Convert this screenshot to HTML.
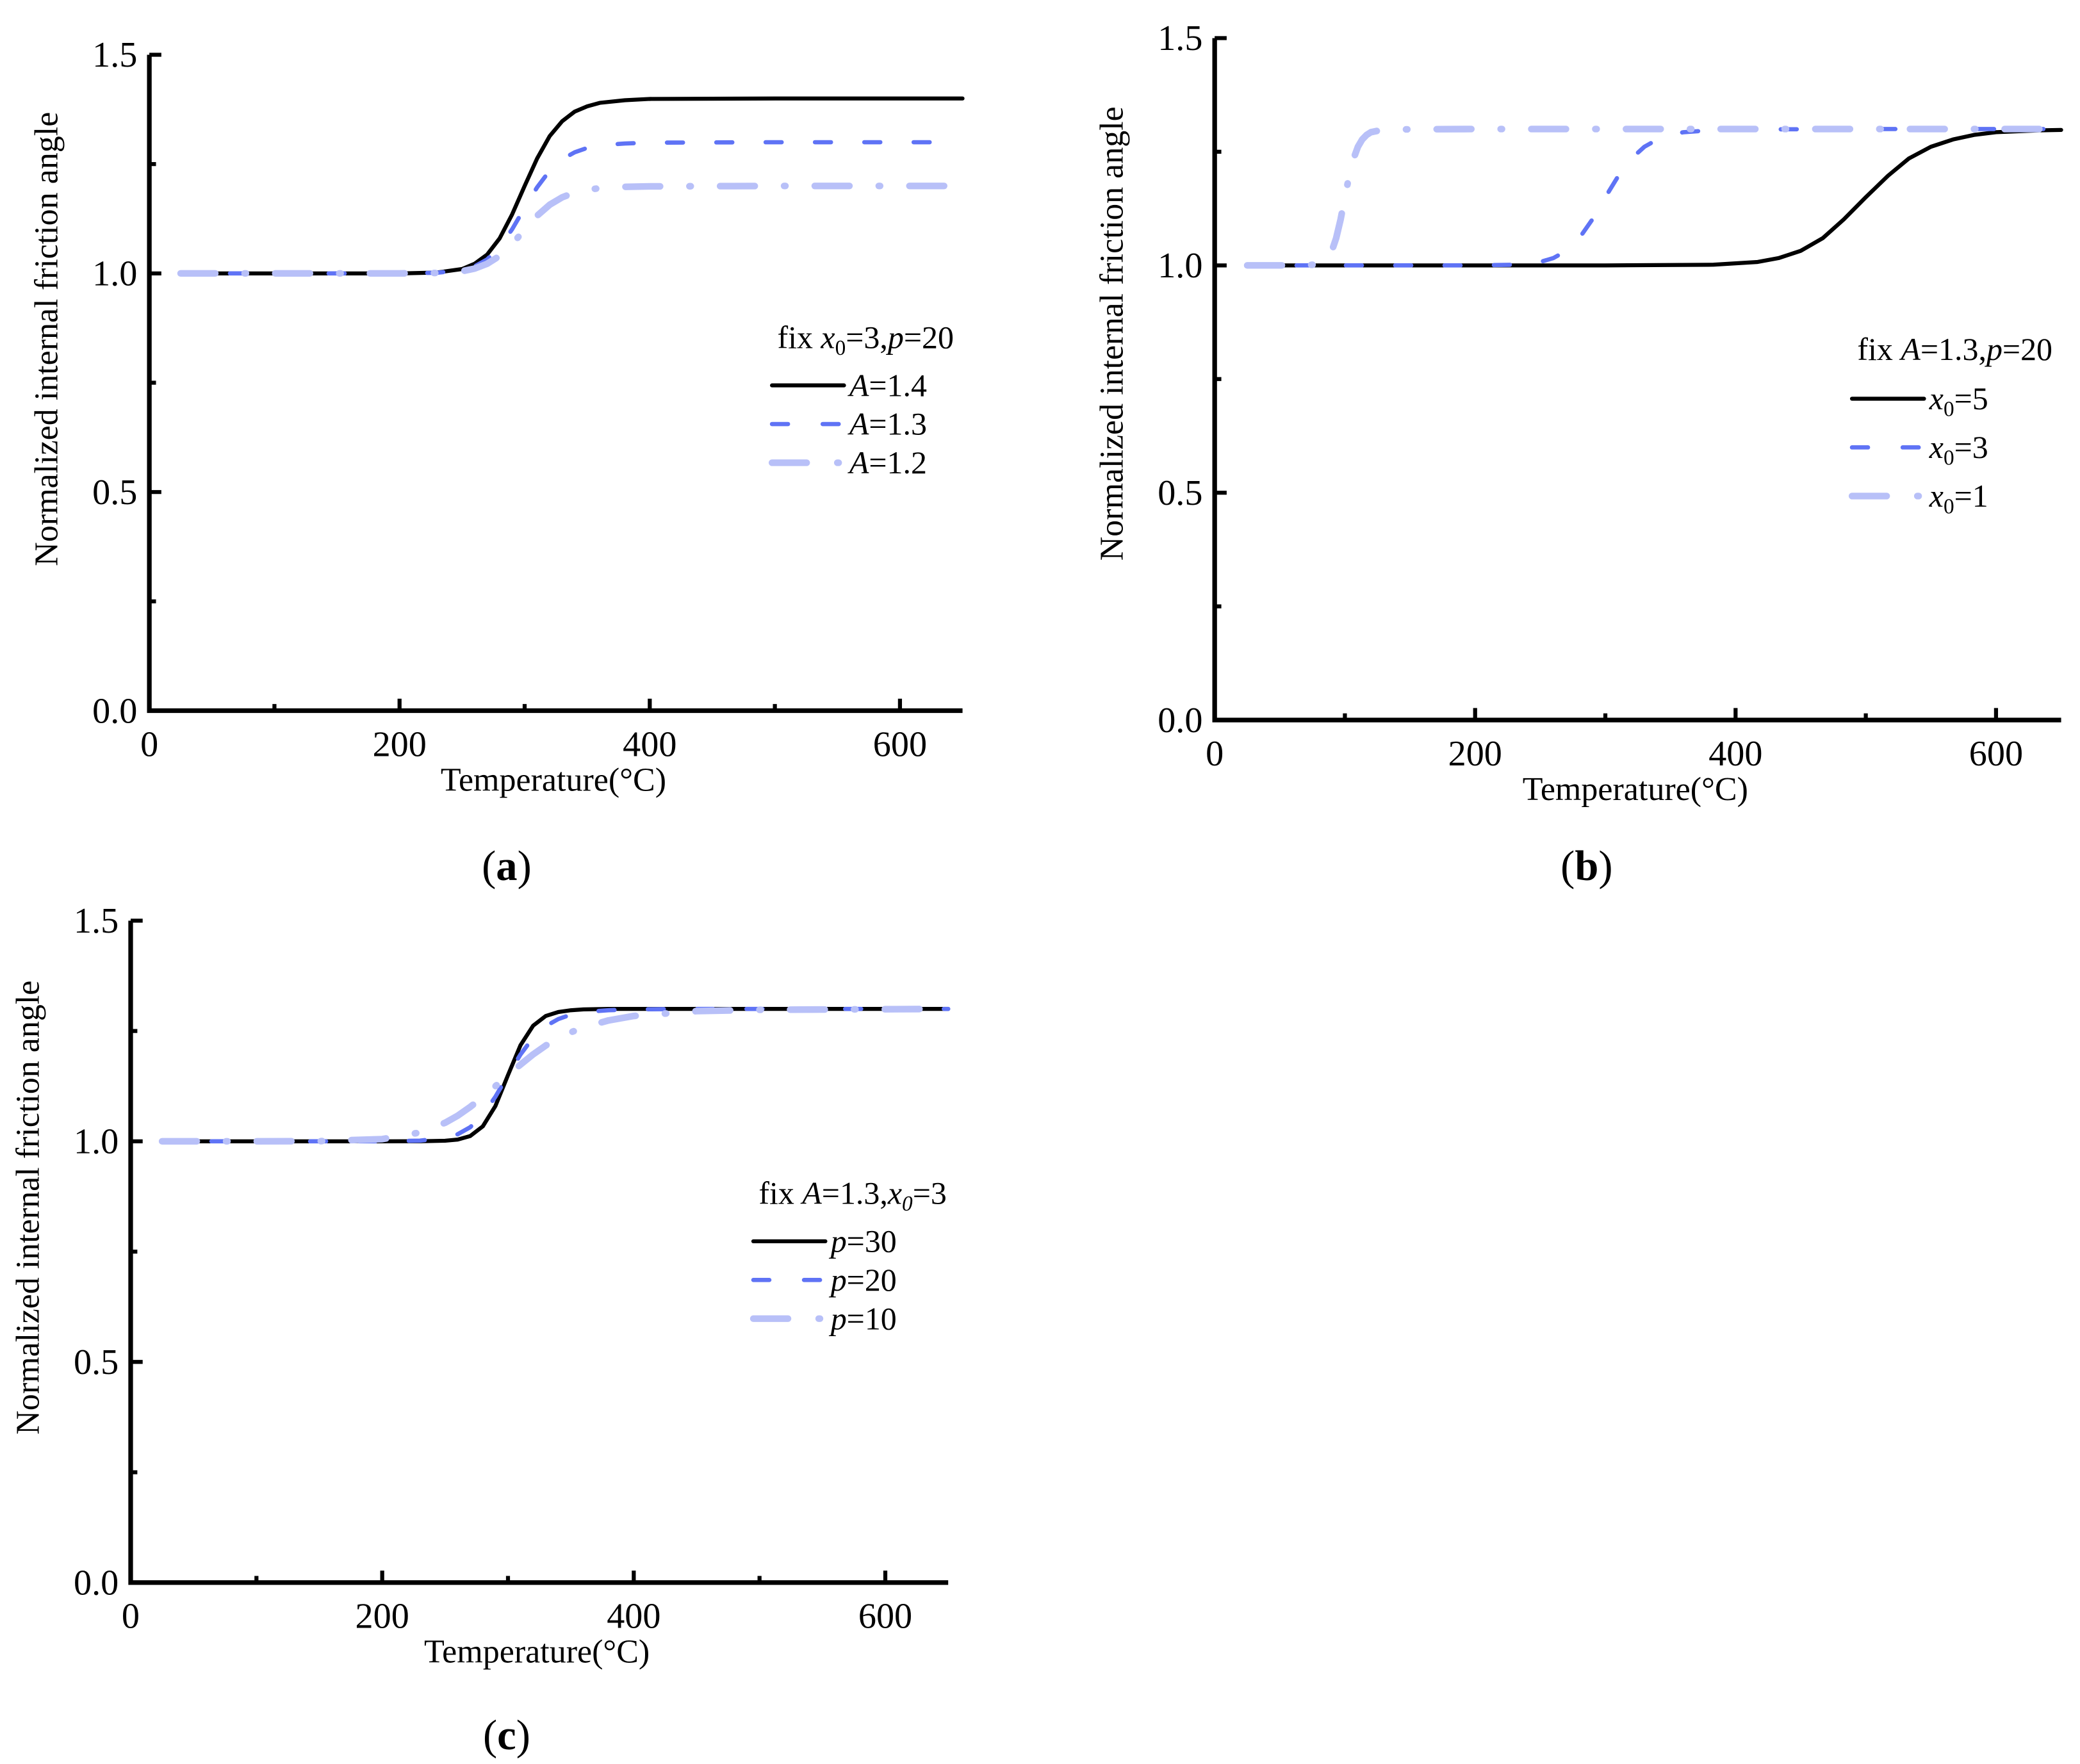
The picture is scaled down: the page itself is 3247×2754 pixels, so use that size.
<!DOCTYPE html>
<html><head><meta charset="utf-8"><style>
html,body{margin:0;padding:0;background:#fff;}
svg{display:block;}
text{font-family:"Liberation Serif",serif;fill:#000;}
</style></head><body>
<svg id="fig" width="3247" height="2754" viewBox="0 0 1560 1323" xmlns="http://www.w3.org/2000/svg"></svg>
<script>
// Temperature samples (°C)
const tempsA = [25,100,200,230,250,260,270,280,290,300,310,320,330,340,350,360,380,400,500,650];
// Panel (a)
const aSeries14 = [1,1,1,1.002,1.010,1.022,1.043,1.080,1.135,1.200,1.263,1.314,1.348,1.370,1.382,1.390,1.396,1.399,1.4,1.4];
const aSeries13 = [1,1,1,1.0015,1.0076,1.016,1.032,1.060,1.101,1.150,1.197,1.235,1.261,1.277,1.287,1.293,1.297,1.299,1.3,1.3];
const aSeries12 = [1,1,1,1.001,1.005,1.011,1.022,1.040,1.067,1.100,1.132,1.157,1.174,1.185,1.191,1.195,1.198,1.199,1.2,1.2];
// Panel (b)
const tempsB5 = [25,200,300,383,417,433,450,467,483,500,517,533,550,567,583,600,633,650];
const bSeries5 = [1,1,1,1.0015,1.0076,1.016,1.032,1.060,1.101,1.150,1.197,1.235,1.261,1.277,1.287,1.293,1.297,1.298];
const bSeries3 = [1,1,1,1.0015,1.0076,1.016,1.032,1.060,1.101,1.150,1.197,1.235,1.261,1.277,1.287,1.293,1.297,1.299,1.3,1.3];
const tempsB1 = [25,60,76.7,83.3,86.7,90,93.3,96.7,100,103.3,106.7,110,113.3,116.7,120,126.7,133.3,200,650];
const bSeries1 = [1,1,1.0015,1.0076,1.016,1.032,1.060,1.101,1.150,1.197,1.235,1.261,1.277,1.287,1.293,1.297,1.299,1.3,1.3];
// Panel (c)
const tempsC = [25,100,150,200,230,250,260,270,280,290,300,310,320,330,340,350,360,380,400,450,500,650];
const cSeries30 = [1,1,1,1,1.0001,1.0013,1.004,1.012,1.034,1.080,1.150,1.218,1.262,1.284,1.293,1.297,1.299,1.3,1.3,1.3,1.3,1.3];
const cSeries20 = [1,1,1,1,1.0015,1.0076,1.016,1.032,1.060,1.101,1.150,1.197,1.235,1.261,1.277,1.287,1.293,1.297,1.299,1.3,1.3,1.3];
const cSeries10 = [1,1,1.0003,1.005,1.020,1.042,1.058,1.078,1.100,1.125,1.150,1.174,1.197,1.217,1.233,1.247,1.258,1.274,1.284,1.295,1.298,1.3];
const xTicks = [0,200,400,600];
const xMinor = [100,300,500];
const yTicks = [0,0.5,1.0,1.5];
const yMinor = [0.25,0.75,1.25];

const NS="http://www.w3.org/2000/svg";
const svg=document.getElementById('fig');
function mk(tag,attrs,parent){const e=document.createElementNS(NS,tag);for(const k in attrs)e.setAttribute(k,attrs[k]);(parent||svg).appendChild(e);return e;}
function line(pts){return 'M'+pts.map(p=>p[0].toFixed(2)+','+p[1].toFixed(2)).join(' L');}
const styles={
 black:{stroke:'#000','stroke-width':3,dash:null},
 blue:{stroke:'#5f73f5','stroke-width':3.2,dash:'12 25'},
 light:{stroke:'#b8c0f8','stroke-width':5,dash:'26 22 1 22'}
};
function panel(cfg){
 const g=mk('g',{});
 
 
 const sx=v=>cfg.x0+v*cfg.kx, sy=v=>cfg.y0-v*cfg.ky;
 cfg.series.forEach(s=>{
  const pts=s.t.map((t,i)=>[sx(t),sy(s.v[i])]);
  const st=styles[s.style];
  const p=mk('path',{d:line(pts),fill:'none',stroke:st.stroke,'stroke-width':st['stroke-width'],'stroke-linecap':'round','stroke-linejoin':'round'},g);
  if(st.dash)p.setAttribute('stroke-dasharray',st.dash);
  
  
 });
 const xe=sx(650);
 const ax=mk('path',{d:`M${cfg.x0},${sy(1.5)} V${cfg.y0} H${xe}`,fill:'none',stroke:'#000','stroke-width':3.5},g);
 
 
 xTicks.forEach(t=>{
  mk('line',{x1:sx(t),x2:sx(t),y1:cfg.y0,y2:cfg.y0-9,stroke:'#000','stroke-width':3},g);
  const tx=mk('text',{x:sx(t),y:cfg.y0+34,'text-anchor':'middle','font-size':27},g);tx.textContent=t;
  
  
 });
 xMinor.forEach(t=>mk('line',{x1:sx(t),x2:sx(t),y1:cfg.y0,y2:cfg.y0-5,stroke:'#000','stroke-width':3},g));
 yTicks.forEach(v=>{
  mk('line',{x1:cfg.x0,x2:cfg.x0+9,y1:sy(v),y2:sy(v),stroke:'#000','stroke-width':3},g);
  const tx=mk('text',{x:cfg.x0-9,y:sy(v)+9,'text-anchor':'end','font-size':27},g);tx.textContent=v.toFixed(1);
  
  
 });
 yMinor.forEach(v=>mk('line',{x1:cfg.x0,x2:cfg.x0+5,y1:sy(v),y2:sy(v),stroke:'#000','stroke-width':3},g));
 const xt=mk('text',{x:sx(323),y:cfg.y0+60,'text-anchor':'middle','font-size':25},g);xt.textContent='Temperature(°C)';
 
 
 const yc=sy(0.85);
 const yt=mk('text',{x:0,y:0,'text-anchor':'middle','font-size':25,transform:`translate(${cfg.x0-69},${yc}) rotate(-90)`},g);yt.textContent='Normalized internal friction angle';
 
 
 const lb=mk('text',{x:cfg.lx,y:cfg.ly,'text-anchor':'middle','font-size':32},g);
 lb.innerHTML='(<tspan font-weight="bold">'+cfg.letter+'</tspan>)';
 
 
 const lt=mk('text',{x:cfg.legX,y:cfg.legY,'font-size':24},g);lt.innerHTML=cfg.legTitle;
 
 
 cfg.series.forEach((s,i)=>{
  const y=cfg.legY+cfg.legOff+i*cfg.legStep;const st=styles[s.style];
  const l=mk('line',{x1:cfg.legX-4,x2:cfg.legX+50,y1:y,y2:y,stroke:st.stroke,'stroke-width':st['stroke-width'],'stroke-linecap':'round'},g);
  if(st.dash)l.setAttribute('stroke-dasharray',s.style==='blue'?'12 26':'26 23 1 30');
  
  
  const t=mk('text',{x:cfg.legX+54,y:y+8,'font-size':24},g);t.innerHTML=s.label;
  
  
 });
}
panel({name:'panel-a',letter:'a',x0:112,y0:533,kx:0.9383,ky:328,lx:380,ly:660,legX:583,legY:261,legOff:28,legStep:29,
 legTitle:'fix <tspan font-style="italic">x</tspan><tspan font-size="16" dy="5">0</tspan><tspan dy="-5">=3,</tspan><tspan font-style="italic">p</tspan>=20',
 series:[{name:'line-a-1.4',t:tempsA,v:aSeries14,style:'black',label:'<tspan font-style="italic">A</tspan>=1.4'},
  {name:'line-a-1.3',t:tempsA,v:aSeries13,style:'blue',label:'<tspan font-style="italic">A</tspan>=1.3'},
  {name:'line-a-1.2',t:tempsA,v:aSeries12,style:'light',label:'<tspan font-style="italic">A</tspan>=1.2'}]});
panel({name:'panel-b',letter:'b',x0:911,y0:540,kx:0.9767,ky:341,lx:1190,ly:660,legX:1393,legY:270,legOff:29,legStep:36.5,
 legTitle:'fix <tspan font-style="italic">A</tspan>=1.3,<tspan font-style="italic">p</tspan>=20',
 series:[{name:'line-b-x0-5',t:tempsB5,v:bSeries5,style:'black',label:'<tspan font-style="italic">x</tspan><tspan font-size="16" dy="5">0</tspan><tspan dy="-5">=5</tspan>'},
  {name:'line-b-x0-3',t:tempsA,v:bSeries3,style:'blue',label:'<tspan font-style="italic">x</tspan><tspan font-size="16" dy="5">0</tspan><tspan dy="-5">=3</tspan>'},
  {name:'line-b-x0-1',t:tempsB1,v:bSeries1,style:'light',label:'<tspan font-style="italic">x</tspan><tspan font-size="16" dy="5">0</tspan><tspan dy="-5">=1</tspan>'}]});
panel({name:'panel-c',letter:'c',x0:98,y0:1187,kx:0.9433,ky:331,lx:380,ly:1312,legX:569,legY:903,legOff:28,legStep:29,
 legTitle:'fix <tspan font-style="italic">A</tspan>=1.3,<tspan font-style="italic">x</tspan><tspan font-size="16" dy="5" font-style="italic">0</tspan><tspan dy="-5">=3</tspan>',
 series:[{name:'line-c-p30',t:tempsC,v:cSeries30,style:'black',label:'<tspan font-style="italic">p</tspan>=30'},
  {name:'line-c-p20',t:tempsC,v:cSeries20,style:'blue',label:'<tspan font-style="italic">p</tspan>=20'},
  {name:'line-c-p10',t:tempsC,v:cSeries10,style:'light',label:'<tspan font-style="italic">p</tspan>=10'}]});
</script>
</body></html>
